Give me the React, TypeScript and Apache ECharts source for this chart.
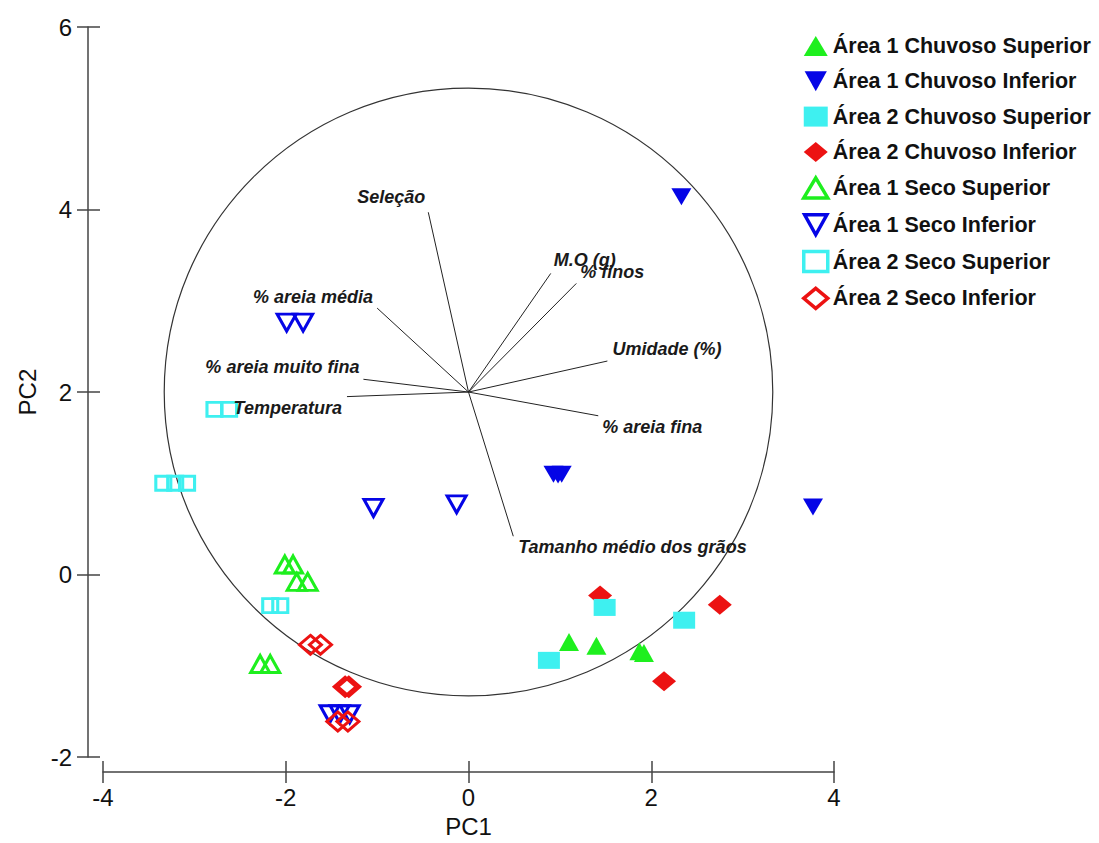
import React, { useEffect, useRef } from "react";
import * as echarts from "echarts";

// ---- data ----
const xTicks = [-4, -2, 0, 2, 4];
const yTicks = [-2, 0, 2, 4, 6];

const a1ChuvosoSuperior = [[1.1, -0.74], [1.4, -0.78], [1.87, -0.84], [1.92, -0.86]];
const a1ChuvosoInferior = [[2.33, 4.14], [3.77, 0.74], [0.93, 1.1], [0.98, 1.09], [1.02, 1.1]];
const a2ChuvosoSuperior = [[0.88, -0.94], [1.49, -0.36], [2.36, -0.5]];
const a2ChuvosoInferior = [[1.44, -0.23], [2.75, -0.33], [2.14, -1.17]];
const a1SecoSuperior = [[-2.01, 0.11], [-1.92, 0.11], [-1.88, -0.08], [-1.76, -0.08], [-2.28, -0.98], [-2.17, -0.98]];
const a1SecoInferior = [[-1.99, 2.76], [-1.81, 2.76], [-1.04, 0.73], [-0.13, 0.77], [-1.52, -1.53], [-1.41, -1.53], [-1.3, -1.53]];
const a2SecoSuperior = [[-2.78, 1.81], [-2.62, 1.81], [-3.34, 1.0], [-3.21, 1.0], [-3.08, 1.0], [-2.17, -0.34], [-2.06, -0.34]];
const a2SecoInferior = [[-1.73, -0.77], [-1.62, -0.77], [-1.35, -1.23], [-1.31, -1.23], [-1.43, -1.61], [-1.32, -1.61]];

const vectorOrigin = [0, 2];
const vectorNames = [
  "Seleção",
  "% areia média",
  "% areia muito fina",
  "Temperatura",
  "M.O (g)",
  "% finos",
  "Umidade (%)",
  "% areia fina",
  "Tamanho médio dos grãos",
];
const vectorEnds = [
  [-0.44, 3.97],
  [-1.0, 2.92],
  [-1.15, 2.14],
  [-1.33, 1.95],
  [0.9, 3.3],
  [1.18, 3.19],
  [1.52, 2.34],
  [1.42, 1.74],
  [0.49, 0.42],
];
const circleRadius = 3.33;

// ---- layout for vector labels (pixel offsets from vector end) ----
const labelPlacement: [number, number, string][] = [
  [-3, -15, "right"],
  [-4, -11, "right"],
  [-4, -12, "right"],
  [-5, 11, "right"],
  [3, -13, "left"],
  [4, -11, "left"],
  [5, -12, "left"],
  [4, 11, "left"],
  [5, 11, "left"],
];

const GREEN = "#1eef1e";
const BLUE = "#0505e6";
const CYAN = "#3ef0f0";
const RED = "#ec1212";
const DOWN_TRI = "path://M0,0L20,0L10,18Z";

const seriesDefs = [
  { name: "Área 1 Chuvoso Superior", data: a1ChuvosoSuperior, symbol: "triangle", size: [20, 18], color: GREEN, filled: true, z: 3 },
  { name: "Área 1 Chuvoso Inferior", data: a1ChuvosoInferior, symbol: DOWN_TRI, size: [20, 17], color: BLUE, filled: true, z: 3 },
  { name: "Área 2 Chuvoso Superior", data: a2ChuvosoSuperior, symbol: "rect", size: [22, 17], color: CYAN, filled: true, z: 4 },
  { name: "Área 2 Chuvoso Inferior", data: a2ChuvosoInferior, symbol: "diamond", size: [24, 20], color: RED, filled: true, z: 3 },
  { name: "Área 1 Seco Superior", data: a1SecoSuperior, symbol: "triangle", size: [19, 17], color: GREEN, filled: false, z: 5 },
  { name: "Área 1 Seco Inferior", data: a1SecoInferior, symbol: DOWN_TRI, size: [19, 17], color: BLUE, filled: false, z: 5 },
  { name: "Área 2 Seco Superior", data: a2SecoSuperior, symbol: "rect", size: [15, 14], color: CYAN, filled: false, z: 5 },
  { name: "Área 2 Seco Inferior", data: a2SecoInferior, symbol: "diamond", size: [22, 19], color: RED, filled: false, z: 6 },
];

const AXIS_COLOR = "#444";
const FONT = "Liberation Sans, Arial, sans-serif";

export default function App() {
  const ref = useRef<HTMLDivElement>(null);
  useEffect(() => {
    if (!ref.current) return;
    const chart = echarts.init(ref.current, undefined, { renderer: "svg" });

    const baseX = {
      type: "value",
      min: -4,
      max: 4,
      interval: 2,
      position: "bottom",
      offset: 15,
      splitLine: { show: false },
    };
    const baseY = {
      type: "value",
      min: -2,
      max: 6,
      interval: 2,
      position: "left",
      offset: 15,
      splitLine: { show: false },
    };
    const tickLine = { color: AXIS_COLOR, width: 1.5 };

    const option: any = {
      animation: false,
      backgroundColor: "#ffffff",
      textStyle: { fontFamily: FONT },
      grid: { left: 103, top: 27, width: 731, height: 731, containLabel: false },
      xAxis: [
        {
          ...baseX,
          name: "PC1",
          nameLocation: "middle",
          nameGap: 40,
          nameTextStyle: { fontSize: 24, color: "#111", fontFamily: FONT },
          axisLine: { show: true, onZero: false, lineStyle: tickLine },
          axisTick: { show: true, length: 11, lineStyle: tickLine },
          axisLabel: { fontSize: 24, color: "#111", margin: 13, fontFamily: FONT, customValues: xTicks },
        },
        {
          ...baseX,
          axisLine: { show: false, onZero: false },
          axisTick: { show: true, inside: true, length: 11, lineStyle: tickLine },
          axisLabel: { show: false },
        },
      ],
      yAxis: [
        {
          ...baseY,
          name: "PC2",
          nameLocation: "middle",
          nameGap: 46,
          nameRotate: 90,
          nameTextStyle: { fontSize: 24, color: "#111", fontFamily: FONT },
          axisLine: { show: true, onZero: false, lineStyle: tickLine },
          axisTick: { show: true, length: 11, lineStyle: tickLine },
          axisLabel: { fontSize: 24, color: "#111", margin: 16, fontFamily: FONT, customValues: yTicks },
        },
        {
          ...baseY,
          axisLine: { show: false, onZero: false },
          axisTick: { show: true, inside: true, length: 12, lineStyle: tickLine },
          axisLabel: { show: false },
        },
      ],
      legend: {
        orient: "vertical",
        left: 797,
        top: 30,
        itemWidth: 24,
        itemHeight: 20,
        itemGap: 13.3,
        textStyle: { fontSize: 21.5, fontWeight: "bold", color: "#111", fontFamily: FONT },
        data: seriesDefs.map((s) => ({
          name: s.name,
          itemStyle: s.filled
            ? { color: s.color, borderWidth: 0 }
            : { color: "rgba(0,0,0,0)", borderColor: s.color, borderWidth: 3.5 },
        })),
      },
      series: [
        {
          type: "custom",
          name: "circle",
          coordinateSystem: "cartesian2d",
          silent: true,
          z: 1,
          data: [[vectorOrigin[0], vectorOrigin[1], circleRadius]],
          renderItem: (_p: any, api: any) => {
            const c = api.coord([api.value(0), api.value(1)]);
            const s = api.size([api.value(2), api.value(2)]);
            return {
              type: "ellipse",
              shape: { cx: c[0], cy: c[1], rx: s[0], ry: s[1] },
              style: { fill: "none", stroke: "#333", lineWidth: 1.2 },
            };
          },
        },
        {
          type: "custom",
          name: "vectors",
          coordinateSystem: "cartesian2d",
          silent: true,
          z: 7,
          data: vectorEnds.map((e, i) => [e[0], e[1], i]),
          renderItem: (_p: any, api: any) => {
            const i = api.value(2);
            const o = api.coord(vectorOrigin);
            const e = api.coord([api.value(0), api.value(1)]);
            const pl = labelPlacement[i];
            return {
              type: "group",
              children: [
                {
                  type: "line",
                  shape: { x1: o[0], y1: o[1], x2: e[0], y2: e[1] },
                  style: { stroke: "#222", lineWidth: 1 },
                },
                {
                  type: "text",
                  x: e[0] + pl[0],
                  y: e[1] + pl[1],
                  style: {
                    text: vectorNames[i],
                    fontSize: 18,
                    fontStyle: "italic",
                    fontWeight: "bold",
                    fontFamily: FONT,
                    fill: "#1a1a1a",
                    align: pl[2],
                    verticalAlign: "middle",
                  },
                },
              ],
            };
          },
        },
        ...seriesDefs.map((s) => ({
          type: "scatter",
          name: s.name,
          data: s.data,
          symbol: s.symbol,
          symbolSize: s.size,
          z: s.z,
          itemStyle: s.filled
            ? { color: s.color, opacity: 1 }
            : { color: "rgba(0,0,0,0)", borderColor: s.color, borderWidth: 3, opacity: 1 },
        })),
      ],
    };

    chart.setOption(option);
    return () => chart.dispose();
  }, []);

  return (
    <div
      ref={ref}
      style={{ position: "fixed", left: 0, top: 0, width: 1099, height: 843, background: "#fff" }}
    />
  );
}
